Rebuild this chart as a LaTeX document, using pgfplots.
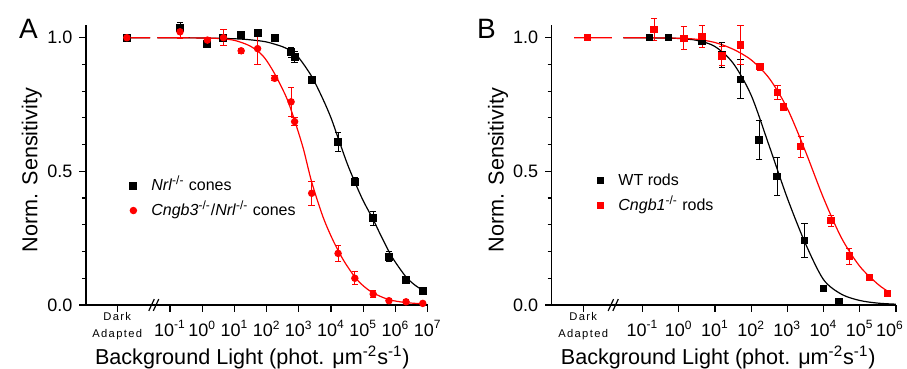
\documentclass[border=0pt]{standalone}
\usepackage{pgfplots}
\usepackage{pgfplotstable}
\pgfplotsset{compat=1.18}
\usepackage{fontspec}
\setmainfont{Liberation Sans}
\newcommand\dafont{\fontsize{5.6}{8.3}\selectfont\addfontfeature{LetterSpace=12}}

% Panel A data: log10 intensity, normalised sensitivity, error
\pgfplotstableread{
x y e
-2.34 1.000 0
-0.69 1.035 0.02
0.16 0.977 0.01
0.66 1.000 0.01
1.21 1.009 0
1.72 1.016 0.01
2.25 0.998 0.01
2.76 0.945 0.02
2.87 0.927 0.02
3.40 0.842 0.01
4.22 0.611 0.035
4.74 0.461 0.015
5.31 0.324 0.025
5.80 0.181 0.02
6.33 0.094 0.005
6.85 0.052 0.005
}\Ablack
\pgfplotstableread{
x y e
-2.34 1.000 0
-0.69 1.022 0.025
0.16 0.991 0.01
0.66 1.000 0.03
1.21 0.951 0.01
1.72 0.959 0.06
2.25 0.848 0.01
2.76 0.760 0.055
2.87 0.686 0.015
3.40 0.418 0.045
4.22 0.193 0.03
4.74 0.100 0.025
5.31 0.041 0.012
5.80 0.016 0.008
6.33 0.012 0.008
6.85 0.006 0.005
}\Ared
\pgfplotstableread{
x y
-2.45 1.000
-1.62 1.000
nan nan
-1.39 1.000
0 0.999
1.0 0.996
1.5 0.992
2.0 0.984
2.5 0.966
2.76 0.950
3.0 0.925
3.4 0.855
3.75 0.770
4.0 0.700
4.22 0.625
4.5 0.530
4.74 0.460
5.0 0.390
5.31 0.320
5.5 0.272
5.8 0.200
6.0 0.160
6.33 0.105
6.6 0.075
6.85 0.055
}\Ablackfit
\pgfplotstableread{
x y
-2.45 1.000
-1.62 1.000
nan nan
-1.39 1.000
0 0.999
0.5 0.997
1.0 0.990
1.5 0.968
1.9 0.930
2.25 0.865
2.62 0.775
2.87 0.690
3.14 0.585
3.40 0.460
3.75 0.330
4.07 0.240
4.4 0.165
4.74 0.105
5.0 0.072
5.31 0.045
5.8 0.020
6.33 0.009
6.9 0.004
}\Aredfit

% Panel B data
\pgfplotstableread{
x y e
-0.81 1.000 0
-0.29 1.000 0
0.14 0.998 0.01
0.64 0.988 0.01
1.19 0.935 0.047
1.71 0.844 0.073
2.22 0.617 0.072
2.72 0.480 0.07
3.47 0.241 0.0625
4.00 0.062 0.012
4.43 0.012 0
}\Bblack
\pgfplotstableread{
x y e
-2.52 1.000 0
-0.68 1.031 0.04
0.14 0.998 0.044
0.64 1.004 0.04
1.19 0.932 0.035
1.71 0.972 0.073
2.24 0.892 0.013
2.73 0.795 0.025
2.89 0.740 0.01
3.37 0.592 0.04
4.21 0.315 0.02
4.71 0.183 0.03
5.27 0.102 0.005
5.77 0.044 0.005
}\Bred
\pgfplotstableread{
x y
-1.53 1.000
-0.5 0.999
0 0.997
0.5 0.990
1.0 0.967
1.5 0.905
2.0 0.785
2.5 0.595
3.0 0.400
3.5 0.230
4.0 0.095
4.5 0.040
5.0 0.017
5.5 0.007
6.0 0.003
}\Bblackfit
\pgfplotstableread{
x y
-2.89 1.000
-1.85 1.000
nan nan
-1.53 1.000
-1.0 1.000
0 0.998
0.5 0.994
1.0 0.982
1.5 0.957
2.0 0.917
2.5 0.848
3.0 0.735
3.5 0.575
4.0 0.400
4.5 0.250
5.0 0.145
5.5 0.078
5.77 0.052
}\Bredfit

\pgfplotsset{
  panel/.style={
    scale only axis, height=140pt,
    ymin=0, ymax=1.0475,
    axis x line=bottom, axis y line=left,
    axis line style={-, line width=0.7pt},
    ytick={0,0.5,1}, yticklabels={0.0,0.5,1.0},
    minor ytick={0.1,0.2,0.3,0.4,0.6,0.7,0.8,0.9},
    tick align=outside, major tick length=3.3pt, minor tick length=2pt,
    tick style={black, line width=0.6pt},
    tick label style={font=\fontsize{9}{10}\selectfont},
    xticklabel style={yshift=-1pt},
    unbounded coords=jump, clip=false,
    legend cell align=left,
    legend image code/.code={\path[draw=none,fill=none] (-3pt,0pt) (8pt,0pt);
      \draw[##1, only marks] plot coordinates {(0pt,0pt)};},
    legend style={draw=none, fill=none, inner sep=0pt, row sep=3pt,
      nodes={inner sep=1pt, text height=6pt, text depth=1.5pt},
      font=\fontsize{8}{9.6}\selectfont},
    every axis y label/.style={rotate=90, anchor=center, font=\fontsize{10.8}{12}\selectfont},
    every axis x label/.style={anchor=base, font=\fontsize{10.8}{12}\selectfont},
    xlabel={Background Light (phot. μm\textsuperscript{-2}s\textsuperscript{-1})},
    ylabel={Norm. Sensitivity},
  },
  fit/.style={smooth, tension=0.5, line width=0.6pt, no marks, forget plot},
  dat/.style={only marks, line width=0.5pt,
    error bars/y dir=both, error bars/y explicit,
    error bars/error mark options={rotate=90, mark size=1.6pt, line width=0.5pt}},
}

\begin{document}
\begin{tikzpicture}[x=1pt,y=1pt]
\path[use as bounding box] (-43,-32) rectangle (410.5,152.5);

% ---------- Panel A ----------
\begin{axis}[panel, at={(0pt,0pt)}, anchor=south west, width=170.8pt,
  xmin=-3.61, xmax=7,
  xtick={-2.64,-1,0,1,2,3,4,5,6,7},
  xticklabels={{},10\textsuperscript{-1},10\textsuperscript{0},10\textsuperscript{1},10\textsuperscript{2},10\textsuperscript{3},10\textsuperscript{4},10\textsuperscript{5},10\textsuperscript{6},10\textsuperscript{7}},
  xlabel style={at={(axis description cs:0.487,-0.214)}},
  ylabel style={at={(axis description cs:-0.159,0.482)}},
  legend style={at={(axis description cs:0.12,0.462)}, anchor=north west},
]
\addplot[fit, black] table[x=x,y=y] {\Ablackfit};
\addplot[fit, red] table[x=x,y=y] {\Aredfit};
\addplot[dat, black, mark=square*, mark size=1.75pt] table[x=x,y=y,y error=e] {\Ablack};
\addlegendentry{\textit{Nrl}\textsuperscript{-/-} cones}
\addplot[dat, red, mark=*, mark size=1.6pt] table[x=x,y=y,y error=e] {\Ared};
\addlegendentry{\textit{Cngb3}\textsuperscript{-/-}/\textit{Nrl}\textsuperscript{-/-} cones}
\draw[line width=0.6pt] (axis cs:-1.66,-0.022) -- (axis cs:-1.49,0.022);
\draw[line width=0.6pt] (axis cs:-1.52,-0.022) -- (axis cs:-1.35,0.022);
\node[font=\dafont, align=center] at (axis cs:-2.64,-0.08) {Dark\\Adapted};
\end{axis}
\node[anchor=base west, font=\fontsize{14}{16}\selectfont] at (-37,133.3) {A};

% ---------- Panel B ----------
\begin{axis}[panel, at={(232.85pt,0pt)}, anchor=south west, width=172.1pt,
  xmin=-3.51, xmax=6,
  xtick={-2.64,-1,0,1,2,3,4,5,6},
  xticklabels={{},10\textsuperscript{-1},10\textsuperscript{0},10\textsuperscript{1},10\textsuperscript{2},10\textsuperscript{3},10\textsuperscript{4},10\textsuperscript{5},\hspace*{-6pt}10\textsuperscript{6}},
  xlabel style={at={(axis description cs:0.484,-0.214)}},
  ylabel style={at={(axis description cs:-0.156,0.482)}},
  legend style={at={(axis description cs:0.123,0.479)}, anchor=north west},
]
\addplot[fit, black] table[x=x,y=y] {\Bblackfit};
\addplot[fit, red] table[x=x,y=y] {\Bredfit};
\addplot[dat, black, mark=square*, mark size=1.6pt] table[x=x,y=y,y error=e] {\Bblack};
\addlegendentry{WT rods}
\addplot[dat, red, mark=square*, mark size=1.6pt] table[x=x,y=y,y error=e] {\Bred};
\addlegendentry{\textit{Cngb1}\textsuperscript{-/-} rods}
\draw[line width=0.6pt] (axis cs:-1.95,-0.022) -- (axis cs:-1.80,0.022);
\draw[line width=0.6pt] (axis cs:-1.82,-0.022) -- (axis cs:-1.67,0.022);
\node[font=\dafont, align=center] at (axis cs:-2.64,-0.08) {Dark\\Adapted};
\end{axis}
\node[anchor=base west, font=\fontsize{14}{16}\selectfont] at (192,133.3) {B};
\end{tikzpicture}
\end{document}
